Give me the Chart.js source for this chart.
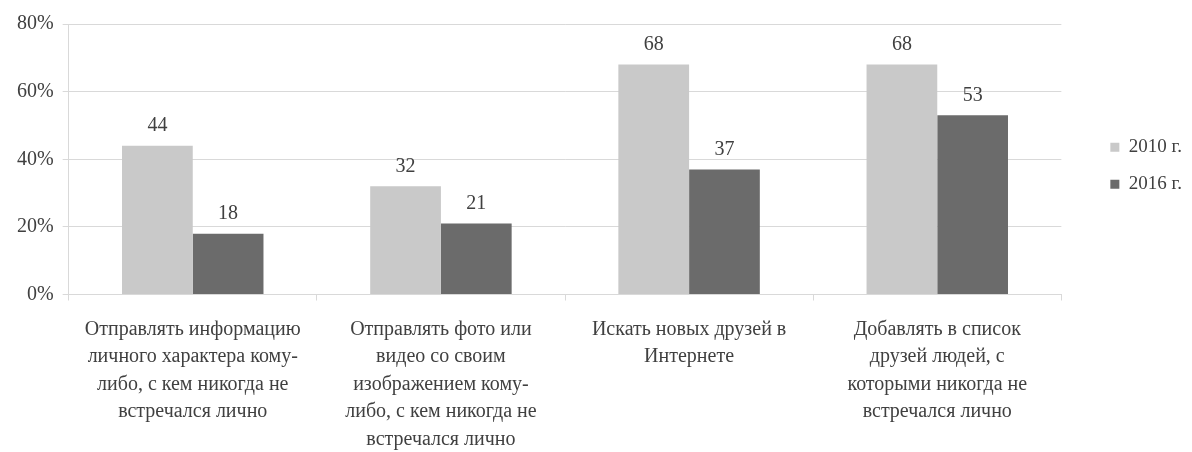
<!DOCTYPE html>
<html>
<head>
<meta charset="utf-8">
<script src="https://cdn.jsdelivr.net/npm/chart.js@4"></script>
<style>
  html, body { margin: 0; padding: 0; background: #fff; }
  #wrap { width: 1192px; height: 452px; }
</style>
</head>
<body>
<div id="wrap"><canvas id="chart"></canvas></div>
<script>
// данные с картинки
const categories = [
  ["Отправлять информацию", "личного характера кому-", "либо, с кем никогда не", "встречался лично"],
  ["Отправлять фото или", "видео со своим", "изображением кому-", "либо, с кем никогда не", "встречался лично"],
  ["Искать новых друзей в", "Интернете"],
  ["Добавлять в список", "друзей людей, с", "которыми никогда не", "встречался лично"]
]
const seriesNames = ["2010 г.", "2016 г."]
const values2010 = [44, 32, 68, 68]
const values2016 = [18, 21, 37, 53]
const yTicks = [0, 20, 40, 60, 80]

const serif = "'Liberation Serif', 'DejaVu Serif', serif"
const textColor = "#404040"

// подписи значений над столбцами
const valueLabels = {
  id: "valueLabels",
  afterDatasetsDraw(chart) {
    const ctx = chart.ctx
    ctx.save()
    ctx.font = `20px ${serif}`
    ctx.fillStyle = textColor
    ctx.textAlign = "center"
    ctx.textBaseline = "bottom"
    chart.data.datasets.forEach((ds, i) => {
      chart.getDatasetMeta(i).data.forEach((bar, j) => {
        ctx.fillText(ds.data[j], bar.x, bar.y - 10)
      })
    })
    ctx.restore()
  }
}

new Chart(document.getElementById("chart"), {
  type: "bar",
  data: {
    labels: categories,
    datasets: [
      { label: seriesNames[0], data: values2010, backgroundColor: "#c9c9c9" },
      { label: seriesNames[1], data: values2016, backgroundColor: "#6b6b6b" }
    ]
  },
  options: {
    responsive: true,
    maintainAspectRatio: false,
    animation: false,
    layout: { padding: { top: 24, left: 8, right: 0, bottom: -16 } },
    datasets: { bar: { barPercentage: 1, categoryPercentage: 0.57 } },
    scales: {
      x: {
        grid: { drawOnChartArea: false, color: "#d9d9d9", tickLength: 6 },
        border: { color: "#d9d9d9" },
        ticks: {
          maxRotation: 0,
          autoSkip: false,
          color: textColor,
          padding: 15,
          font: { family: serif, size: 20, lineHeight: 1.375 }
        }
      },
      y: {
        min: 0,
        max: yTicks[yTicks.length - 1],
        afterBuildTicks: (axis) => { axis.ticks = yTicks.map(v => ({ value: v })) },
        grid: { color: "#d9d9d9", tickLength: 6 },
        border: { color: "#d9d9d9" },
        ticks: {
          color: textColor,
          padding: 9,
          font: { family: serif, size: 20 },
          callback: (v) => v + "%"
        }
      },
      // пустая ось справа — отступ между графиком и легендой
      gap: {
        position: "right",
        grid: { display: false },
        border: { display: false },
        ticks: { display: false },
        afterFit: (s) => { s.width = 31 }
      }
    },
    plugins: {
      legend: {
        position: "right",
        fullSize: false,
        title: { display: true, text: " ", padding: 0, font: { size: 11 } },
        labels: {
          color: textColor,
          font: { family: serif, size: 19 },
          boxWidth: 9,
          boxHeight: 9,
          padding: 18
        }
      },
      tooltip: { enabled: false }
    }
  },
  plugins: [valueLabels]
})
</script>
</body>
</html>
